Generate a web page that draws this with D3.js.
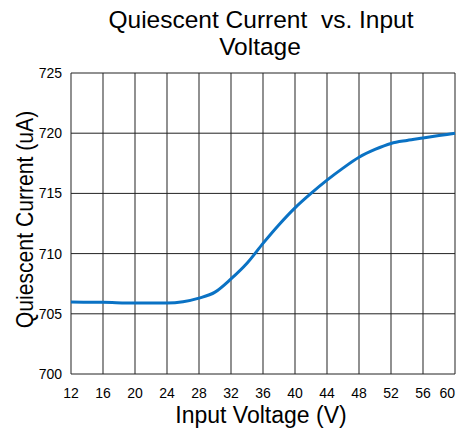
<!DOCTYPE html>
<meta charset="utf-8">
<style>
body { margin: 0; background: #fff; }
text { font-family: "Liberation Sans", Arial, sans-serif; fill: #000; }
.grid-h { stroke: #222; stroke-width: 1px; }
.grid-v { stroke: #555; stroke-width: 1.3px; }
.curve { fill: none; stroke: #0a72c4; stroke-width: 3px; }
</style>
<svg width="459" height="432"></svg>
<script src="https://cdn.jsdelivr.net/npm/d3@7"></script>
<script>

var voltage = [12, 16, 20, 24, 26, 28, 30, 32, 34, 36, 38, 40, 42, 44, 46, 48, 50, 52, 54, 56, 58, 60];
var current = [705.97, 705.95, 705.9, 705.9, 706.0, 706.3, 706.8, 707.9, 709.2, 710.85, 712.4, 713.8,
               715.0, 716.1, 717.1, 718.0, 718.65, 719.15, 719.4, 719.6, 719.8, 720.0];
var xTicks = [12, 16, 20, 24, 28, 32, 36, 40, 44, 48, 52, 56, 60];
var yTicks = [700, 705, 710, 715, 720, 725];

var svg = d3.select("svg"),
    margin = {top: 73, right: 4, bottom: 58, left: 71},
    width = +svg.attr("width") - margin.left - margin.right,
    height = +svg.attr("height") - margin.top - margin.bottom;

var x = d3.scaleLinear().domain([12, 60]).range([0, width]);
var y = d3.scaleLinear().domain([700, 725]).range([height, 0]);

var g = svg.append("g")
    .attr("transform", "translate(" + margin.left + "," + margin.top + ")");

// grid
g.selectAll(".grid-v")
    .data(xTicks)
  .enter().append("line")
    .attr("class", "grid-v")
    .attr("x1", x).attr("x2", x)
    .attr("y1", 0).attr("y2", height);

g.selectAll(".grid-h")
    .data(yTicks)
  .enter().append("line")
    .attr("class", "grid-h")
    .attr("x1", 0).attr("x2", width)
    .attr("y1", y).attr("y2", y);

// tick labels (last one kept inside the frame, as in the original)
g.selectAll(".xt")
    .data(xTicks)
  .enter().append("text")
    .attr("x", x)
    .attr("y", height + 24)
    .attr("text-anchor", function(d, i) { return i === xTicks.length - 1 ? "end" : "middle"; })
    .style("font-size", "14px")
    .text(function(d) { return d; });

g.selectAll(".yt")
    .data(yTicks)
  .enter().append("text")
    .attr("x", -9)
    .attr("y", function(d) { return y(d) + 5; })
    .attr("text-anchor", "end")
    .style("font-size", "14px")
    .text(function(d) { return d; });

// curve
var line = d3.line()
    .x(function(d, i) { return x(voltage[i]); })
    .y(function(d) { return y(d); })
    .curve(d3.curveMonotoneX);

g.append("path")
    .datum(current)
    .attr("class", "curve")
    .attr("d", line);

// titles
svg.append("text")
    .attr("x", 261).attr("y", 28)
    .attr("text-anchor", "middle")
    .style("font-size", "24.5px")
    .style("white-space", "pre")
    .text("Quiescent Current  vs. Input");

svg.append("text")
    .attr("x", 260).attr("y", 55)
    .attr("text-anchor", "middle")
    .style("font-size", "24.5px")
    .text("Voltage");

svg.append("text")
    .attr("x", 261).attr("y", 423)
    .attr("text-anchor", "middle")
    .style("font-size", "23px")
    .text("Input Voltage (V)");

svg.append("text")
    .attr("transform", "translate(33,219.5) rotate(-90) scale(0.92,1)")
    .attr("text-anchor", "middle")
    .style("font-size", "23px")
    .text("Quiescent Current (uA)");

</script>
